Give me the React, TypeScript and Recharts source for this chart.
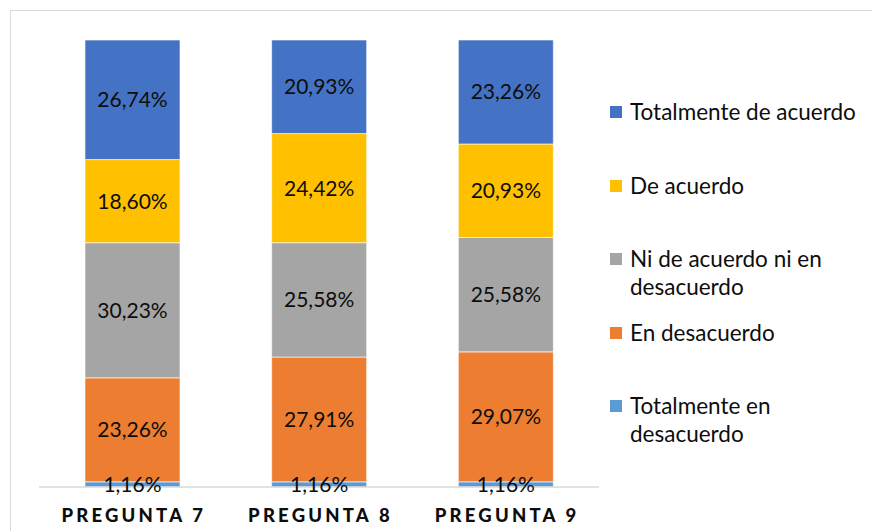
import React from 'react';
import { BarChart, Bar, XAxis, YAxis, Legend, LabelList } from 'recharts';

const categories = ['PREGUNTA 7', 'PREGUNTA 8', 'PREGUNTA 9'];
const totalmenteEnDesacuerdo = [1.16, 1.16, 1.16];
const enDesacuerdo = [23.26, 27.91, 29.07];
const niDeAcuerdo = [30.23, 25.58, 25.58];
const deAcuerdo = [18.6, 24.42, 20.93];
const totalmenteDeAcuerdo = [26.74, 20.93, 23.26];

const seriesKeys = ['ted', 'ed', 'ni', 'da', 'tda'];
const seriesNames = [
  'Totalmente en desacuerdo',
  'En desacuerdo',
  'Ni de acuerdo ni en desacuerdo',
  'De acuerdo',
  'Totalmente de acuerdo',
];
const seriesColors = ['#5B9BD5', '#ED7D31', '#A5A5A5', '#FFC000', '#4472C4'];
const seriesValues = [totalmenteEnDesacuerdo, enDesacuerdo, niDeAcuerdo, deAcuerdo, totalmenteDeAcuerdo];

const data = categories.map((c, i) => {
  const row: Record<string, string | number> = { name: c };
  seriesKeys.forEach((k, s) => {
    row[k] = seriesValues[s][i];
  });
  return row;
});

const FONT = 'Lato, "Open Sans", sans-serif';

const fmt = (v: any) => Number(v).toFixed(2).replace('.', ',') + '%';

const CategoryTick = (props: any) => {
  const { x, y, payload } = props;
  return (
    <text
      x={x + 1.5}
      y={y}
      dy={26.5}
      textAnchor="middle"
      fontFamily={FONT}
      fontWeight={900}
      fontSize={18.5}
      letterSpacing={3.2}
      fill="#0d0d0d"
    >
      {payload.value}
    </text>
  );
};

const LegendContent = () => {
  const order = [...seriesKeys.keys()].reverse();
  return (
    <div style={{ display: 'flex', flexDirection: 'column', fontFamily: FONT }}>
      {order.map((s) => (
        <div key={seriesKeys[s]} style={{ height: 73.5, display: 'flex', alignItems: 'flex-start' }}>
          <div
            style={{
              width: 12,
              height: 12,
              marginTop: 8,
              marginRight: 8,
              background: seriesColors[s],
              flex: '0 0 auto',
            }}
          />
          <div style={{ width: 240, fontSize: 22.5, lineHeight: '28px', color: '#0d0d0d' }}>{seriesNames[s]}</div>
        </div>
      ))}
    </div>
  );
};

export default function App() {
  return (
    <div style={{ position: 'absolute', left: 0, top: 0, width: 872, height: 531, overflow: 'hidden', background: '#fff' }}>
      <div
        style={{
          position: 'absolute',
          left: 10,
          top: 10,
          width: 900,
          height: 600,
          border: '1px solid #d9d9d9',
          boxSizing: 'border-box',
        }}
      />
      <div style={{ position: 'absolute', left: 0, top: 0 }}>
        <BarChart
          width={872}
          height={531}
          data={data}
          margin={{ top: 40, right: 13, bottom: 0, left: 39 }}
        >
          <XAxis
            dataKey="name"
            axisLine={{ stroke: '#d9d9d9', strokeWidth: 1.5 }}
            tickLine={false}
            tick={<CategoryTick />}
            height={44}
            interval={0}
          />
          <YAxis hide domain={[0, 100]} allowDataOverflow />
          <Legend
            layout="vertical"
            align="right"
            verticalAlign="middle"
            content={<LegendContent />}
            wrapperStyle={{ left: 610, top: 98, width: 260 }}
          />
          {seriesKeys.map((k, s) => (
            <Bar
              key={k}
              dataKey={k}
              name={seriesNames[s]}
              stackId="a"
              fill={seriesColors[s]}
              stroke="#ffffff"
              strokeWidth={0.6}
              barSize={95}
              isAnimationActive={false}
            >
              <LabelList
                dataKey={k}
                position="center"
                formatter={fmt}
                fontFamily={FONT}
                fontSize={21}
                fill="#0d0d0d"
              />
            </Bar>
          ))}
        </BarChart>
      </div>
    </div>
  );
}
